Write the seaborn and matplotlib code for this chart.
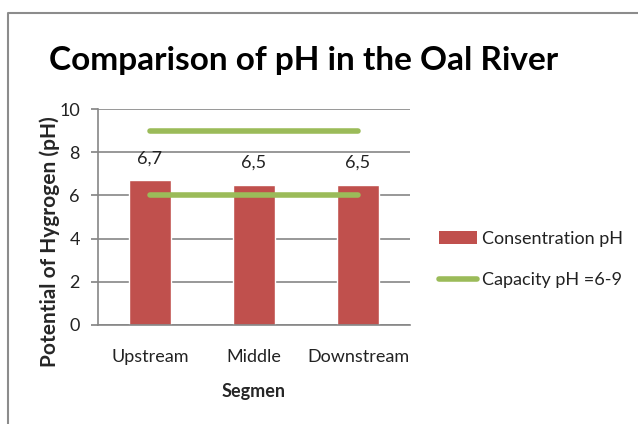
import matplotlib
matplotlib.use('Agg')
import matplotlib.pyplot as plt
import seaborn as sns
import pandas as pd
from matplotlib.patches import Patch
from matplotlib.lines import Line2D

# data
segments = ['Upstream', 'Middle', 'Downstream']
ph_values = [6.7, 6.5, 6.5]
ph_labels = ['6,7', '6,5', '6,5']
cap_low = [6, 6, 6]
cap_high = [9, 9, 9]
yticks = [0, 2, 4, 6, 8, 10]

red = '#C0504D'
green = '#9BBB59'
grid_col = '#868686'

sns.set_theme(style='white')
plt.rcParams['font.family'] = ['Lato', 'DejaVu Sans']

df = pd.DataFrame({'segment': segments, 'ph': ph_values})

fig = plt.figure(figsize=(6.38, 4.24), dpi=100)
ax = fig.add_axes([0.1536, 0.2335, 0.4890, 0.5094])

sns.barplot(data=df, x='segment', y='ph', color=red, width=0.4,
            saturation=1, ax=ax, zorder=2)
xs = list(range(len(segments)))
ax.plot(xs, cap_high, color=green, lw=4, solid_capstyle='round', zorder=3)
ax.plot(xs, cap_low, color=green, lw=4, solid_capstyle='round', zorder=3)

ax.bar_label(ax.containers[0], labels=ph_labels, padding=10, fontsize=13, color='#222222')

ax.set_ylim(0, 10)
ax.set_xlim(-0.5, 2.5)
ax.set_yticks(yticks)
ax.yaxis.grid(True, color=grid_col, lw=1.2)
ax.set_axisbelow(True)
for s in ['top', 'right']:
    ax.spines[s].set_visible(False)
for s in ['left', 'bottom']:
    ax.spines[s].set_color(grid_col)
    ax.spines[s].set_linewidth(1.2)
ax.tick_params(axis='y', left=True, length=5, color=grid_col, labelsize=13,
               labelcolor='#222222', pad=8)
ax.tick_params(axis='x', bottom=False, labelsize=13, labelcolor='#222222', pad=11)

ax.set_xlabel('Segmen', fontsize=13, fontweight='bold', labelpad=13)
ax.set_ylabel('Potential of Hygrogen (pH)', fontsize=15, fontweight='bold')
ax.yaxis.set_label_coords(-0.123, 0.384)

fig.text(0.4757, 0.858, 'Comparison of pH in the Oal River', ha='center', va='center',
         fontsize=24, fontweight='bold', color='black')

# chart border (left and top edges visible)
fig.add_artist(Line2D([8 / 638, 8 / 638, 1.0], [0.0, 1 - 13 / 424, 1 - 13 / 424],
                      transform=fig.transFigure, color='#8C8C8C', lw=1.5))

handles = [Patch(facecolor=red, edgecolor='none'),
           Line2D([0], [0], color=green, lw=4)]
fig.legend(handles, ['Consentration pH', 'Capacity pH =6-9'],
           loc='center left', bbox_to_anchor=(0.662, 0.388), frameon=False,
           fontsize=13, handlelength=2.1, handletextpad=0.3, labelspacing=1.4,
           labelcolor='#222222')

fig.savefig('out.png', dpi=100)
